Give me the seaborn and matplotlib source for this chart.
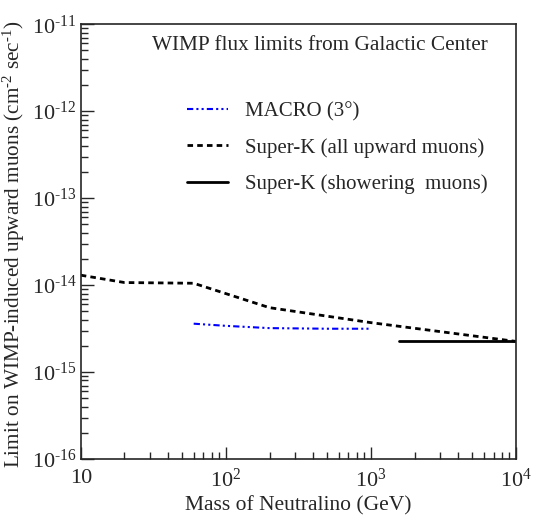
import numpy as np
import pandas as pd
import matplotlib
matplotlib.use("Agg")
import matplotlib.pyplot as plt
import matplotlib.ticker as mticker
import seaborn as sns

# datos
superk_mass = [10, 20, 60, 200, 1000, 10000]
superk_flux = [1.3e-14, 1.07e-14, 1.05e-14, 5.5e-15, 3.7e-15, 2.25e-15]

macro_mass = [60, 100, 200, 500, 1000]
macro_flux = [3.6e-15, 3.4e-15, 3.2e-15, 3.15e-15, 3.15e-15]

shower_mass = [1550, 10000]
shower_flux = [2.25e-15, 2.25e-15]

x_ticks = [10, 1e2, 1e3, 1e4]
y_ticks = [1e-16, 1e-15, 1e-14, 1e-13, 1e-12, 1e-11]

sns.set_style("ticks")
plt.rcParams['font.family'] = ['Liberation Serif', 'DejaVu Serif']
plt.rcParams['mathtext.fontset'] = 'custom'
plt.rcParams['mathtext.rm'] = 'Liberation Serif'
plt.rcParams['mathtext.it'] = 'Liberation Serif:italic'
plt.rcParams['axes.unicode_minus'] = False

fig = plt.figure(figsize=(5.35, 5.15), dpi=100)
ax = fig.add_axes([0.151, 0.1087, 0.8135, 0.8443])

sns.lineplot(x=macro_mass, y=macro_flux, ax=ax, color='blue', lw=1.5,
             linestyle=(0, (3, 1.5, 1, 1.5, 1, 1.5)), label='MACRO (3°)')
sns.lineplot(x=superk_mass, y=superk_flux, ax=ax, color='black', lw=2,
             linestyle=(0, (2, 1.5)), label='Super-K (all upward muons)')
sns.lineplot(x=shower_mass, y=shower_flux, ax=ax, color='black', lw=2,
             linestyle='-', label='Super-K (showering  muons)')

ax.set_xscale('log')
ax.set_yscale('log')
ax.set_xlim(10, 1e4)
ax.set_ylim(1e-16, 1e-11)

def fmt(v, pos):
    e = int(round(np.log10(v)))
    if e == 1:
        return '10'
    return r'$\mathregular{10^{\text{%d}}}$' % e

ax.xaxis.set_major_locator(mticker.FixedLocator(x_ticks))
ax.yaxis.set_major_locator(mticker.FixedLocator(y_ticks))
ax.xaxis.set_major_formatter(mticker.FuncFormatter(fmt))
ax.yaxis.set_major_formatter(mticker.FuncFormatter(fmt))
ax.xaxis.set_minor_locator(mticker.LogLocator(base=10, subs=np.arange(2, 10)))
ax.yaxis.set_minor_locator(mticker.LogLocator(base=10, subs=np.arange(2, 10)))
ax.xaxis.set_minor_formatter(mticker.NullFormatter())
ax.yaxis.set_minor_formatter(mticker.NullFormatter())
ax.tick_params(which='both', direction='in', top=False, right=False, labelsize=16, width=1)
ax.tick_params(which='major', length=9)
ax.tick_params(axis='y', which='major', pad=3)
ax.tick_params(axis='x', which='major', pad=7)
ax.tick_params(which='minor', length=5)
for s in ax.spines.values():
    s.set_linewidth(1.2)

ax.set_xlabel('Mass of Neutralino (GeV)', fontsize=15.5)
ax.xaxis.set_label_coords(0.5, -0.085)
ax.set_ylabel(r'Limit on WIMP-induced upward muons (cm$^{\text{-2}}$ sec$^{\text{-1}}$)', fontsize=15.3)
ax.yaxis.set_label_coords(-0.124, 0.493)

ax.text(0.55, 0.95, 'WIMP flux limits from Galactic Center', transform=ax.transAxes,
        ha='center', va='center', fontsize=15.3)

ax.legend(loc='upper left', bbox_to_anchor=(0.2, 0.865), frameon=False, fontsize=15,
          handlelength=2.0, labelspacing=0.8)

fig.savefig('out.png', dpi=100)
